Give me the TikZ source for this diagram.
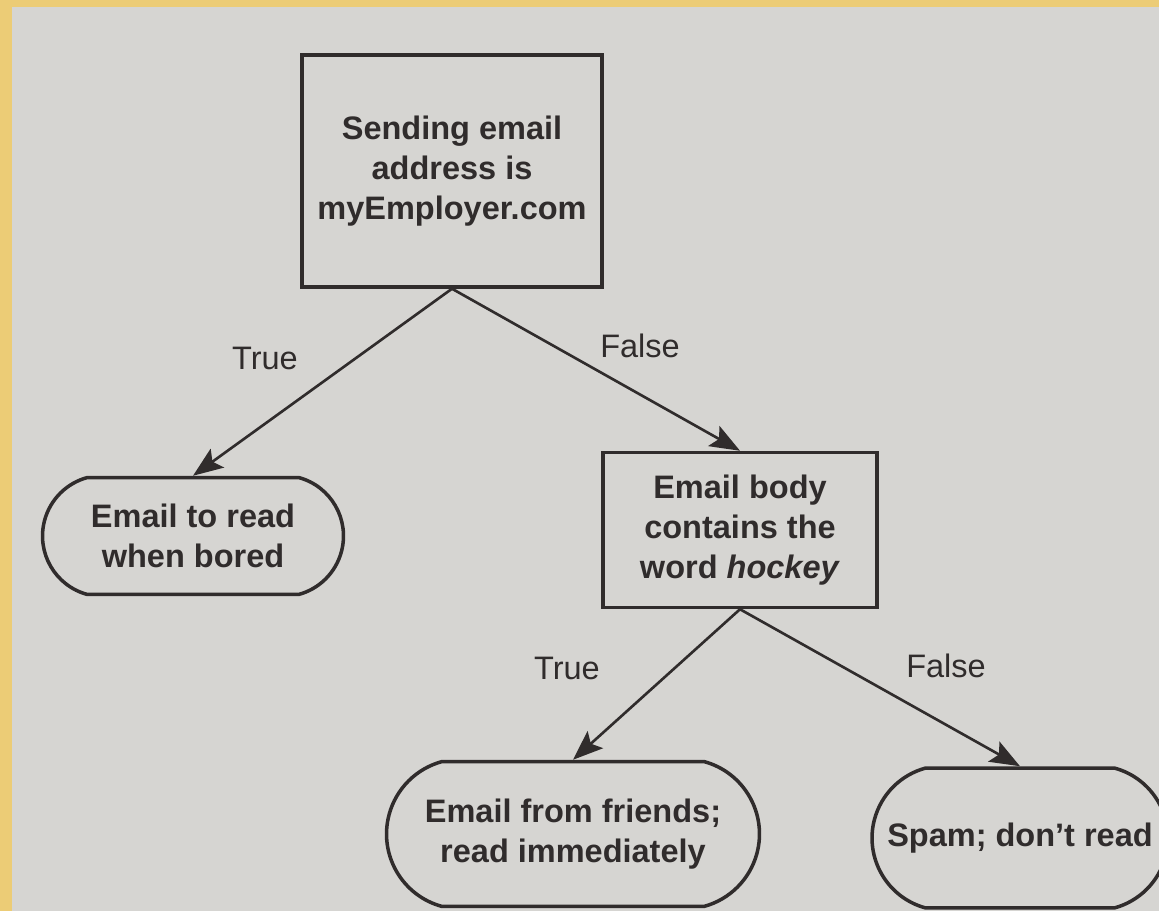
\documentclass[tikz,border=0pt]{standalone}
\usepackage{fontspec}
\setmainfont{Liberation Sans}
\usepackage{tikz}
\usetikzlibrary{arrows.meta,shapes.misc}
\usepackage{xcolor}
\definecolor{pageGray}{RGB}{214,213,210}
\definecolor{frameYellow}{RGB}{236,204,118}
\definecolor{inkDark}{RGB}{48,44,44}

\begin{document}
\begin{tikzpicture}[x=0.02cm,y=0.02cm,
    test/.style={draw=inkDark,line width=2pt,rectangle,align=center,
      font=\fontsize{18.5}{22.8}\selectfont\bfseries,text=inkDark,inner sep=0pt},
    leaf/.style={draw=inkDark,line width=2pt,rounded rectangle,
      rounded rectangle arc length=150,align=center,
      font=\fontsize{18.5}{22.8}\selectfont\bfseries,text=inkDark,inner sep=0pt},
    branch/.style={-{Stealth[length=6mm,width=4.6mm,inset=1.2mm]},line width=1.5pt,inkDark},
    lbl/.style={font=\fontsize{18.5}{22.8}\selectfont,text=inkDark}]
  \useasboundingbox (0,0) rectangle (1159,-911);
  \fill[frameYellow] (0,0) rectangle (1159,-911);
  \fill[pageGray] (12,-7) rectangle (1159,-911);

  \node[test,minimum width=6cm,minimum height=4.64cm] (root) at (452,-171)
    {Sending email\\address is\\myEmployer.com};
  \node[leaf,minimum width=6.02cm,minimum height=2.34cm] (bored) at (193,-536)
    {Email to read\\when bored};
  \node[test,minimum width=5.48cm,minimum height=3.1cm] (hockey) at (740,-530)
    {Email body\\contains the\\word \textit{hockey}};
  \node[leaf,minimum width=7.46cm,minimum height=2.9cm] (friends) at (573,-834)
    {Email from friends;\\read immediately};
  \node[leaf,minimum width=5.92cm,minimum height=2.8cm] (spam) at (1020,-838)
    {Spam; don't read};

  \draw[branch] (root.south) -- (bored.north);
  \draw[branch] (root.south) -- (hockey.north);
  \draw[branch] (hockey.south) -- (friends.north);
  \draw[branch] (hockey.south) -- (spam.north);

  \node[lbl] (rootTrue) at (265,-358) {True};
  \node[lbl] (rootFalse) at (640,-346) {False};
  \node[lbl] (hockeyTrue) at (567,-668) {True};
  \node[lbl] (hockeyFalse) at (946,-666) {False};
\end{tikzpicture}
\end{document}
